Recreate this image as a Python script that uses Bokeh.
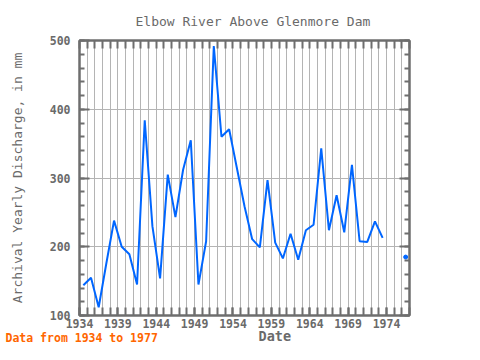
from bokeh.plotting import figure
from bokeh.models import FixedTicker, LinearAxis, Title
from bokeh.embed import file_html
from bokeh.resources import INLINE

# ---- data ----
years = list(range(1934, 1977))
discharge = [144, 155, 112, 176, 238, 200, 189, 145, 384, 230,
             154, 305, 243, 312, 355, 145, 208, 492, 360, 371,
             315, 259, 211, 199, 297, 206, 183, 219, 181, 224,
             232, 343, 224, 275, 221, 319, 208, 207, 237, 213,
             None, None, 185]
x_label_years = [1934, 1939, 1944, 1949, 1954, 1959, 1964, 1969, 1974]
y_ticks = [100, 200, 300, 400, 500]
title_text = "Elbow River Above Glenmore Dam"
x_title = "Date"
y_title = "Archival Yearly Discharge, in mm"
footer_text = "Data from 1934 to 1977"

GRAY = "#6e6e6e"
TXT = "#6a6a6a"
MONO = "DejaVu Sans Mono"

xs = [y + 0.5 for y in years]          # values plotted at mid-year
ys = [float("nan") if v is None else v for v in discharge]
year_marks = years + [years[-1] + 1]

p = figure(width=464, height=344, x_range=(1934, 1977), y_range=(100, 500),
           output_backend="svg", toolbar_location=None,
           min_border_left=79, min_border_right=55,
           min_border_top=40, min_border_bottom=29)
p.background_fill_color = "white"
p.border_fill_color = "white"
p.outline_line_color = GRAY
p.outline_line_width = 2

p.title.text = title_text
p.title.align = "left"
p.title.offset = 56
p.title.vertical_align = "top"
p.title.text_font = MONO
p.title.text_font_size = "13px"
p.title.text_font_style = "normal"
p.title.text_color = TXT
p.title.standoff = 20

xt = FixedTicker(ticks=x_label_years, minor_ticks=year_marks)
yt = FixedTicker(ticks=y_ticks, minor_ticks=[v for v in range(100, 501, 20)])

xa = p.xaxis[0]
xa.ticker = xt
ya = p.yaxis[0]
ya.ticker = yt

for ax in (xa, ya):
    ax.axis_line_color = GRAY
    ax.axis_line_width = 2
    ax.major_tick_line_color = GRAY
    ax.major_tick_line_width = 2
    ax.minor_tick_line_color = GRAY
    ax.minor_tick_line_width = 2
    ax.major_tick_out = 0
    ax.minor_tick_out = 0
    ax.major_label_text_font = MONO
    ax.major_label_text_font_size = "11.5px"
    ax.major_label_text_font_style = "bold"
    ax.major_label_text_color = TXT
xa.major_tick_in = 8
xa.minor_tick_in = 8
xa.major_label_standoff = 3
ya.major_tick_in = 10
ya.minor_tick_in = 5
ya.major_label_standoff = 9
ya.axis_label = y_title
ya.axis_label_text_font = MONO
ya.axis_label_text_font_size = "13px"
ya.axis_label_text_font_style = "normal"
ya.axis_label_text_color = TXT
ya.axis_label_standoff = 22

top = LinearAxis(ticker=FixedTicker(ticks=[], minor_ticks=year_marks),
                 major_label_text_font_size="0px", major_label_text_color=None,
                 major_label_standoff=0,
                 axis_line_color=GRAY, axis_line_width=2,
                 major_tick_line_color=GRAY, major_tick_line_width=2,
                 minor_tick_line_color=GRAY, minor_tick_line_width=2,
                 major_tick_in=8, major_tick_out=0,
                 minor_tick_in=8, minor_tick_out=0)
right = LinearAxis(ticker=yt, major_label_text_font_size="0px",
                   major_label_text_color=None, major_label_standoff=0,
                   axis_line_color=GRAY, axis_line_width=2,
                   major_tick_line_color=GRAY, major_tick_line_width=2,
                   minor_tick_line_color=GRAY, minor_tick_line_width=2,
                   major_tick_in=10, major_tick_out=0,
                   minor_tick_in=5, minor_tick_out=0)
p.add_layout(top, "above")
p.add_layout(right, "right")

# x-axis title and footer note as titles below the axis
p.add_layout(Title(text=x_title, align="left", offset=179, vertical_align="top",
                   text_font=MONO, text_font_size="13.5px", text_font_style="bold",
                   text_color=TXT, standoff=-6), "below")
p.add_layout(Title(text=footer_text, align="left", offset=-74, vertical_align="top",
                   text_font=MONO, text_font_size="11.5px", text_font_style="bold",
                   text_color="#ff6600", standoff=-24), "below")

p.xgrid.ticker = FixedTicker(ticks=year_marks)
p.ygrid.ticker = FixedTicker(ticks=y_ticks)
p.xgrid.grid_line_color = "#b4b4b4"
p.ygrid.grid_line_color = "#b4b4b4"
p.xgrid.grid_line_width = 1
p.ygrid.grid_line_width = 1

p.line(xs, ys, line_color="#0066ff", line_width=2)

# isolated points (no neighbours) drawn as dots
iso_x, iso_y = [], []
for i, v in enumerate(discharge):
    if v is None:
        continue
    prev_missing = i == 0 or discharge[i - 1] is None
    next_missing = i == len(discharge) - 1 or discharge[i + 1] is None
    if prev_missing and next_missing:
        iso_x.append(xs[i])
        iso_y.append(v)
p.scatter(iso_x, iso_y, size=4, color="#0066ff")

open("out.html", "w").write(file_html(p, INLINE))
